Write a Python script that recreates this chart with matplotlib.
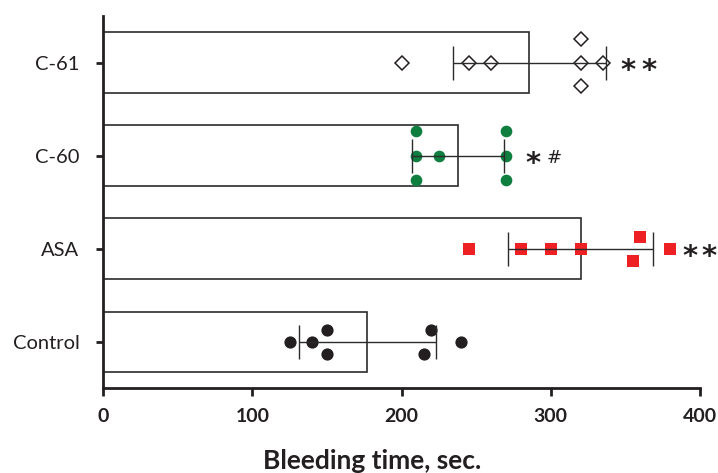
import numpy as np
import matplotlib
matplotlib.use("Agg")
import matplotlib.pyplot as plt

plt.rcParams['font.family'] = ['Lato', 'DejaVu Sans']

# groups, bottom to top
groups = ["Control", "ASA", "C-60", "C-61"]

# individual bleeding times (sec.)
control_vals = [125, 140, 150, 150, 220, 215, 240]
asa_vals = [245, 280, 300, 320, 360, 355, 380]
c60_vals = [210, 210, 210, 225, 270, 270, 270]
c61_vals = [200, 245, 260, 320, 320, 320, 335]

# vertical spread of the dots inside a row (category units, + is up)
control_off = [0, 0, 0.13, -0.13, 0.13, -0.13, 0]
asa_off = [0, 0, 0, 0, 0.13, -0.13, 0]
c60_off = [0.26, 0, -0.26, 0, 0.26, 0, -0.26]
c61_off = [0, 0, 0, 0.25, 0, -0.25, 0]

# significance marks: asterisk positions (sec.) per group, plus the '#'
star_x = [[], [393, 406], [288], [352, 366]]
hash_x = 302.5
hash_group = 2

values = [control_vals, asa_vals, c60_vals, c61_vals]
offsets = [control_off, asa_off, c60_off, c61_off]

black = "#231f20"
styles = [
    dict(marker="o", ms=8.8, mfc=black, mec=black, mew=0),
    dict(marker="s", ms=8.3, mfc="#ed2024", mec="#ed2024", mew=0),
    dict(marker="o", ms=8.4, mfc="#0e7f3f", mec="#0e7f3f", mew=0),
    dict(marker="D", ms=7.6, mfc="white", mec=black, mew=1.1),
]

fig = plt.figure(figsize=(7.18, 4.73), dpi=100)
ax = fig.add_axes([0.1435, 0.179, 0.8315, 0.787])

means = [np.mean(v) for v in values]
sds = [np.std(v, ddof=1) for v in values]
ypos = np.arange(len(groups))

ax.barh(ypos, means, height=0.65, color="white", edgecolor="#2b2b2b",
        linewidth=1.2, zorder=1)

for i in range(len(groups)):
    y = ypos[i] + np.array(offsets[i])
    ax.plot(values[i], y, linestyle="none", zorder=2, **styles[i])
    ax.errorbar(means[i], ypos[i], xerr=sds[i], fmt="none", ecolor="#2b2b2b",
                elinewidth=1.0, capsize=12, capthick=1.0, zorder=3)

for i in range(len(groups)):
    for sx in star_x[i]:
        ax.text(sx, ypos[i] - 0.18, "*", fontsize=21, fontweight="bold",
                ha="center", va="baseline", color=black, clip_on=False,
                family="DejaVu Sans")
ax.text(hash_x, ypos[hash_group] - 0.075, "#", fontsize=13, ha="center",
        va="baseline", color=black, clip_on=False, family="DejaVu Sans")

ax.set_xlim(0, 400)
ax.set_ylim(-0.5, 3.5)
ax.set_xticks([0, 100, 200, 300, 400])
ax.set_yticks(ypos)
ax.set_yticklabels(groups, fontsize=14.5, color=black)
for lbl in ax.get_xticklabels():
    lbl.set_fontweight("bold")
    lbl.set_fontsize(14)
    lbl.set_color(black)

ax.spines["top"].set_visible(False)
ax.spines["right"].set_visible(False)
ax.spines["left"].set_linewidth(2)
ax.spines["bottom"].set_linewidth(2)
ax.spines["left"].set_color(black)
ax.spines["bottom"].set_color(black)
ax.tick_params(axis="x", length=6, width=2, color=black, pad=8)
ax.tick_params(axis="y", length=5, width=2, color=black, pad=12)

ax.set_xlabel("Bleeding time, sec.", fontsize=19, fontweight="bold",
              color=black)
ax.xaxis.set_label_coords(0.45, -0.163)

fig.savefig("out.png", dpi=100)
